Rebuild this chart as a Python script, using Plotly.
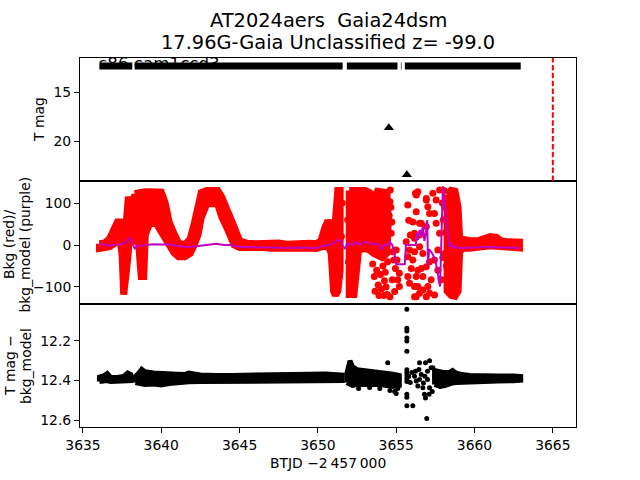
import plotly.graph_objects as go
from plotly.subplots import make_subplots

# ---------------- data ----------------
# top panel: T mag band (envelope of dense points), None = gap
tmag_t  = [3636.05, 3637.1, 3638.15, None, 3638.3, 3641.0, 3644.0, 3647.0, 3650.0, 3651.58, None,
           3651.85, 3653.5, 3655.08, None, 3655.3, 3655.34, None, 3655.55, 3658.0, 3660.5, 3662.95]
tmag_lo = [12.28, 12.28, 12.28, None, 12.28, 12.28, 12.28, 12.28, 12.28, 12.28, None,
           12.28, 12.28, 12.28, None, 12.28, 12.28, None, 12.28, 12.28, 12.28, 12.28]
tmag_hi = [12.37, 12.37, 12.37, None, 12.37, 12.37, 12.37, 12.37, 12.37, 12.37, None,
           12.37, 12.37, 12.37, None, 12.37, 12.37, None, 12.37, 12.37, 12.37, 12.37]
# upper limits (triangles)
ul_t = [3654.53, 3655.68]
ul_v = [18.6, 23.35]
# discovery line
vline_t = [3665.0]
sector_text = "s86 cam1ccd3"
sector_pos = [3636.0, 12.29]

# middle panel: background flux (red) envelope
bkg_t  = [3636.05, 3636.4, 3636.7, 3636.95, 3637.2, 3637.4, 3637.5, 3637.6, 3637.68, 3637.78, 3637.9, 3637.98, None,
          3638.3, 3638.55, 3638.72, 3638.88, 3638.98, 3639.3, 3639.7, 3640.0, 3640.25, 3640.5, 3640.8, 3641.1,
          3641.5, 3641.85, 3642.1, 3642.35, 3642.55, 3642.9, 3643.6, 3643.85, 3644.25, 3644.65, 3645.0, 3645.5,
          3646.0, 3646.5, 3647.0, 3647.5, 3648.0, 3648.5, 3649.0, 3649.5, 3649.9, 3650.2, 3650.45, 3650.65,
          3650.85, 3651.0, 3651.12, 3651.27, 3651.42, None,
          3652.0, 3652.1, 3652.3, 3652.45, 3652.6, 3653.0, 3653.3, 3653.55, 3653.8, 3654.1, 3654.4, 3654.5, None,
          3658.25, 3658.5, 3658.75, 3658.95, 3659.05, 3659.3, 3659.7, 3660.2, 3660.6, 3661.0, 3661.4, 3661.7,
          3662.1, 3662.5, 3662.87]
bkg_lo = [-8, -6, -4, 0, 8, 5, -25, -118, -115, -60, -15, 10, None,
          10, 5, -75, -75, 25, 55, 50, 25, 15, 0, -18, -28,
          -28, -20, 0, 25, 65, 98, 98, 68, 36, 0, -6, -6,
          -8, -6, -8, -7, -9, -7, -8, -7, -8, -6, -3, 0,
          -20, -110, -120, -110, -60, None,
          -118, -118, -118, -60, -12, -8, -12, -20, -25, -30, -20, -10, None,
          -110, -120, -122, -110, -15, -7, -8, -7, -5, -2, -3, -6,
          -7, -7, -7]
bkg_hi = [3, 5, 15, 40, 55, 55, 50, 25, 10, 60, 115, 100, None,
          122, 125, 125, 125, 127, 127, 127, 126, 100, 55, 28, 5,
          0, 15, 50, 98, 125, 130, 130, 115, 83, 43, 10, 4,
          3, 5, 3, 5, 2, 4, 3, 4, 3, 10, 42, 58,
          45, 25, 60, 130, 130, None,
          130, 130, 130, 130, 130, 130, 125, 110, 128, 128, 125, 60, None,
          120, 130, 128, 90, 15, 12, 10, 10, 15, 20, 18, 10,
          8, 8, 7]
# middle panel: isolated background points
bkg_dot_t = [3653.5, 3653.6, 3653.65, 3653.75, 3653.85, 3653.9, 3654.0, 3654.05, 3654.15, 3654.2,
             3654.25, 3654.3, 3654.35, 3654.42, 3654.45,
             3654.62, 3654.6, 3654.72, 3654.68, 3654.78, 3654.85, 3655.0, 3655.05, 3654.95, 3655.2,
             3655.1, 3655.2, 3654.9, 3654.75, 3654.6, 3654.55, 3654.66,
             3656.23, 3656.38, 3655.74, 3656.28, 3655.8, 3656.06, 3656.6, 3655.9, 3656.17, 3655.85,
             3655.74, 3656.06, 3655.96, 3656.38, 3655.74, 3656.28, 3655.85, 3656.38, 3656.49, 3656.17,
             3656.7, 3656.6, 3656.7, 3656.49, 3656.92, 3657.02, 3657.13, 3656.92, 3657.34, 3657.44,
             3657.55, 3657.23, 3657.13, 3657.02, 3657.44, 3657.66, 3657.77, 3657.55, 3657.77, 3657.66,
             3657.87, 3656.28, 3656.92, 3656.49, 3655.64, 3656.17, 3656.92, 3657.13, 3656.7, 3656.28,
             3656.92, 3657.45, 3656.17, 3656.49, 3656.17,
             3657.95, 3658.0, 3658.05, 3658.1, 3658.15, 3658.2, 3658.1, 3657.98, 3658.2,
             3651.55, 3651.5, 3651.9, 3651.95]
bkg_dot_v = [-45, -75, -110, -60, -95, -120, -70, -105, -50, -120,
             -85, -65, -100, -118, -40,
             131, 103, 55, 28, -16, -36, -12, -36, -56, -67,
             -83, -99, -111, -83, -123, 70, 90,
             123, 127, 95, 79, 59, 55, 52, 24, 16, -12,
             -28, -36, -56, -60, -75, -75, -91, -99, -115, -123,
             -75, -56, -20, -4, 111, 91, 75, 44, 123, 75,
             52, -83, -115, -99, -36, -60, 28, 107, 131, -12,
             -83, 119, 107, 52, 8, -16, -52, -40, -107, -123,
             -123, -119, -99, 24, 28,
             100, 60, 130, -20, 30, -50, 90, -30, 110,
             100, 20, 60, -40]

# middle panel: background model (purple line)
model_t = [3636.05, 3636.3, 3636.6, 3637.0, 3637.4, 3637.7, 3637.95, 3638.05, 3638.3, 3638.5,
           3639.0, 3639.5, 3640.0, 3640.5, 3641.0, 3641.5, 3642.0, 3642.5, 3643.0, 3643.5,
           3644.0, 3644.5, 3645.0, 3645.5, 3646.0, 3647.0, 3648.0, 3649.0, 3649.9, 3650.2,
           3650.7, 3651.0, 3651.27, 3651.45, 3651.6, 3651.72, 3651.9, 3652.2, 3652.45, 3652.66,
           3652.98, 3653.3, 3653.72, 3653.9, 3654.03, 3654.25, 3654.45, 3654.57, 3654.75, 3654.89,
           3655.0, 3655.55, 3655.62, 3656.25, 3656.32, 3656.4, 3656.5, 3656.6, 3656.7, 3656.8,
           3656.9, 3656.98, 3657.03, 3657.1, 3657.3, 3657.5, 3657.8, 3657.98, 3658.15, 3658.3,
           3658.4, 3658.5, 3658.6, 3658.7, 3659.0, 3660.0, 3661.0, 3662.0, 3662.87]
model_v = [3, 1, -1, 0, 2, 6, 17, 12, -8, -2,
           0, 2, 1, 1, -2, -5, -4, -2, 1, 3,
           0, 0, -5, -5, -5, -6, -7, -6, -8, -3,
           0, 5, 12, 10, -4, -8, 4, 0, 8, 0,
           8, 3, 3, 0, -12, 2, -2, 8, 0, -20,
           -46, -46, 0, 0, 30, 12, 36, 22, 45, 10,
           30, 59, -48, -10, -20, -36, -99, 140, 79, 20,
           -4, 5, -6, -4, -7, -6, -5, -6, -7]

# bottom panel: T mag - bkg_model band
diff_t  = [3636.05, 3636.35, 3636.55, 3636.75, 3637.2, 3637.6, 3637.85, 3638.05, None,
           3638.35, 3638.6, 3638.75, 3638.95, 3639.5, 3640.0, 3640.5, 3641.0, 3641.5, 3641.75,
           3642.5, 3643.5, 3644.5, 3645.5, 3646.5, 3647.5, 3648.5, 3649.5, 3650.5, 3651.0, 3651.55, None,
           3651.85, 3652.05, 3652.2, 3652.5, 3653.0, 3653.5, 3654.0, 3654.4, 3654.8, 3655.2, None,
           3657.45, 3657.8, 3658.1, 3658.4, 3658.6, 3658.8, 3659.2, 3659.7, 3660.5, 3661.5, 3662.5, 3662.95]
diff_lo = [12.383, 12.375, 12.365, 12.383, 12.385, 12.38, 12.362, 12.37, None,
           12.38, 12.36, 12.343, 12.355, 12.362, 12.365, 12.368, 12.368, 12.37, 12.362,
           12.372, 12.374, 12.374, 12.374, 12.372, 12.373, 12.37, 12.368, 12.367, 12.368, 12.372, None,
           12.365, 12.30, 12.33, 12.345, 12.355, 12.358, 12.362, 12.365, 12.368, 12.375, None,
           12.35, 12.356, 12.36, 12.36, 12.35, 12.362, 12.37, 12.374, 12.377, 12.377, 12.377, 12.38]
diff_hi = [12.405, 12.403, 12.40, 12.405, 12.405, 12.405, 12.402, 12.40, None,
           12.41, 12.415, 12.418, 12.42, 12.418, 12.422, 12.415, 12.41, 12.408, 12.406,
           12.405, 12.404, 12.404, 12.404, 12.403, 12.403, 12.402, 12.402, 12.402, 12.401, 12.40, None,
           12.41, 12.42, 12.425, 12.42, 12.42, 12.418, 12.42, 12.425, 12.43, 12.425, None,
           12.42, 12.43, 12.425, 12.415, 12.412, 12.41, 12.408, 12.405, 12.403, 12.402, 12.401, 12.398]
# bottom panel: isolated points
diff_dot_t = [3654.46, 3653.95, 3654.6, 3654.9, 3655.0, 3655.1, 3652.6, 3653.3,
              3655.68, 3655.68, 3655.68, 3655.68, 3655.68, 3655.68, 3655.68, 3655.68, 3655.68,
              3655.68, 3655.68, 3655.68, 3655.68, 3655.68, 3656.06,
              3656.49, 3656.45, 3656.6, 3656.49, 3656.7, 3656.8, 3656.95, 3656.87, 3657.13, 3657.23,
              3657.0, 3657.0, 3657.13, 3656.87, 3657.34, 3657.45, 3656.17, 3656.28, 3656.23, 3656.38,
              3656.74, 3656.83, 3657.1, 3657.3, 3655.8, 3655.9, 3656.0]
diff_dot_v = [12.31, 12.44, 12.45, 12.455, 12.465, 12.44, 12.44, 12.435,
              12.04, 12.135, 12.15, 12.185, 12.20, 12.252, 12.345, 12.36, 12.375,
              12.39, 12.405, 12.47, 12.485, 12.527, 12.527,
              12.31, 12.344, 12.37, 12.395, 12.437, 12.47, 12.592, 12.31, 12.30, 12.336,
              12.353, 12.395, 12.437, 12.488, 12.336, 12.378, 12.378, 12.403, 12.353, 12.428,
              12.412, 12.378, 12.47, 12.455, 12.38, 12.41, 12.36]

x_ticks = [3635, 3640, 3645, 3650, 3655, 3660, 3665]
top_ticks = [15, 20]
mid_ticks = [-100, 0, 100]
bot_ticks = [12.2, 12.4, 12.6]

# ---------------- helpers ----------------
def envelope(ts, lo, hi):
    xs, ys, seg = [], [], []
    for t, a, b in zip(ts + [None], lo + [None], hi + [None]):
        if t is None:
            if seg:
                st = [s[0] for s in seg]
                sl = [s[1] for s in seg]
                sh = [s[2] for s in seg]
                xs += st + st[::-1] + [st[0], None]
                ys += sh + sl[::-1] + [sh[0], None]
            seg = []
        else:
            seg.append((t, a, b))
    return xs, ys

FONT = "DejaVu Sans"
RED = "#ff0000"
PURPLE = "#bf00bf"

fig = make_subplots(rows=3, cols=1, shared_xaxes=True, vertical_spacing=0)

# --- top panel
fig.add_trace(go.Scatter(x=[sector_pos[0]], y=[sector_pos[1]], mode="text", text=[sector_text],
                         textposition="middle right", textfont=dict(family=FONT, size=16.7, color="black"),
                         showlegend=False, hoverinfo="skip", cliponaxis=False), row=1, col=1)
ex, ey = envelope(tmag_t, tmag_lo, tmag_hi)
fig.add_trace(go.Scatter(x=ex, y=ey, mode="lines", fill="toself", fillcolor="black",
                         line=dict(color="black", width=7), showlegend=False, hoverinfo="skip"), row=1, col=1)
fig.add_trace(go.Scatter(x=ul_t, y=ul_v, mode="markers",
                         marker=dict(symbol="triangle-up", size=9, color="black"),
                         showlegend=False), row=1, col=1)
for vt in vline_t:
    fig.add_vline(x=vt, row=1, col=1, line=dict(color=RED, width=2, dash="5.5px,2.4px"))

# --- middle panel
ex, ey = envelope(bkg_t, bkg_lo, bkg_hi)
fig.add_trace(go.Scatter(x=ex, y=ey, mode="lines", fill="toself", fillcolor=RED,
                         line=dict(color=RED, width=7), showlegend=False, hoverinfo="skip"), row=2, col=1)
fig.add_trace(go.Scatter(x=bkg_dot_t, y=bkg_dot_v, mode="markers",
                         marker=dict(size=7, color=RED), showlegend=False), row=2, col=1)
fig.add_trace(go.Scatter(x=model_t, y=model_v, mode="lines",
                         line=dict(color=PURPLE, width=2), showlegend=False), row=2, col=1)

# --- bottom panel
ex, ey = envelope(diff_t, diff_lo, diff_hi)
fig.add_trace(go.Scatter(x=ex, y=ey, mode="lines", fill="toself", fillcolor="black",
                         line=dict(color="black", width=5), showlegend=False, hoverinfo="skip"), row=3, col=1)
fig.add_trace(go.Scatter(x=diff_dot_t, y=diff_dot_v, mode="markers",
                         marker=dict(size=5, color="black"), showlegend=False), row=3, col=1)

axis_common = dict(showline=True, mirror=True, linecolor="black", linewidth=1,
                   showgrid=False, zeroline=False, ticks="outside", ticklen=5, tickwidth=1,
                   tickcolor="black", tickfont=dict(family=FONT, size=13.9, color="black"))

XR = [3634.81, 3666.48]
fig.update_xaxes(range=XR, **axis_common)
fig.update_xaxes(tickvals=x_ticks, row=3, col=1)
fig.update_xaxes(ticks="", showticklabels=False, row=1, col=1)
fig.update_xaxes(ticks="", showticklabels=False, row=2, col=1)

fig.update_yaxes(**axis_common)
fig.update_yaxes(range=[23.98, 11.56], tickvals=top_ticks, row=1, col=1)
fig.update_yaxes(range=[-140.5, 152.4], tickvals=mid_ticks, row=2, col=1)
fig.update_yaxes(range=[12.635, 12.013], tickvals=bot_ticks, tickformat=".1f", row=3, col=1)

# ---------------- text ----------------
L, T, W, H = 80, 58, 496, 369
def px(xp):
    return (xp - L) / W
def py(yp):
    return (T + H - yp) / H

ann = []
ann.append(dict(text="AT2024aers\u00a0 Gaia24dsm", x=0.5, y=py(20)))
ann.append(dict(text="17.96G-Gaia Unclassified z= -99.0", x=0.5, y=py(43)))
for a in ann:
    a.update(xref="paper", yref="paper", xanchor="center", yanchor="middle", showarrow=False,
             font=dict(family=FONT, size=19.4, color="black"))
lab = [
    ("T mag", 39, 120),
    ("Bkg (red)/", 9, 245),
    ("bkg_model (purple)", 24.5, 245),
    ("T mag \u2212", 10, 366),
    ("bkg_model", 26, 366),
]
for txt, xx, yy in lab:
    ann.append(dict(text=txt, x=px(xx), y=py(yy), xref="paper", yref="paper", textangle=-90,
                    xanchor="center", yanchor="middle", showarrow=False,
                    font=dict(family=FONT, size=13.9, color="black")))
ann.append(dict(text="BTJD \u22122\u2009457\u2009000", x=0.5, y=py(463), xref="paper", yref="paper",
                xanchor="center", yanchor="middle", showarrow=False,
                font=dict(family=FONT, size=13.9, color="black")))

fig.update_layout(width=640, height=480, margin=dict(l=L, r=64, t=T, b=53),
                  paper_bgcolor="white", plot_bgcolor="white", showlegend=False,
                  annotations=ann, font=dict(family=FONT, color="black"))

fig.write_html("out.html")
